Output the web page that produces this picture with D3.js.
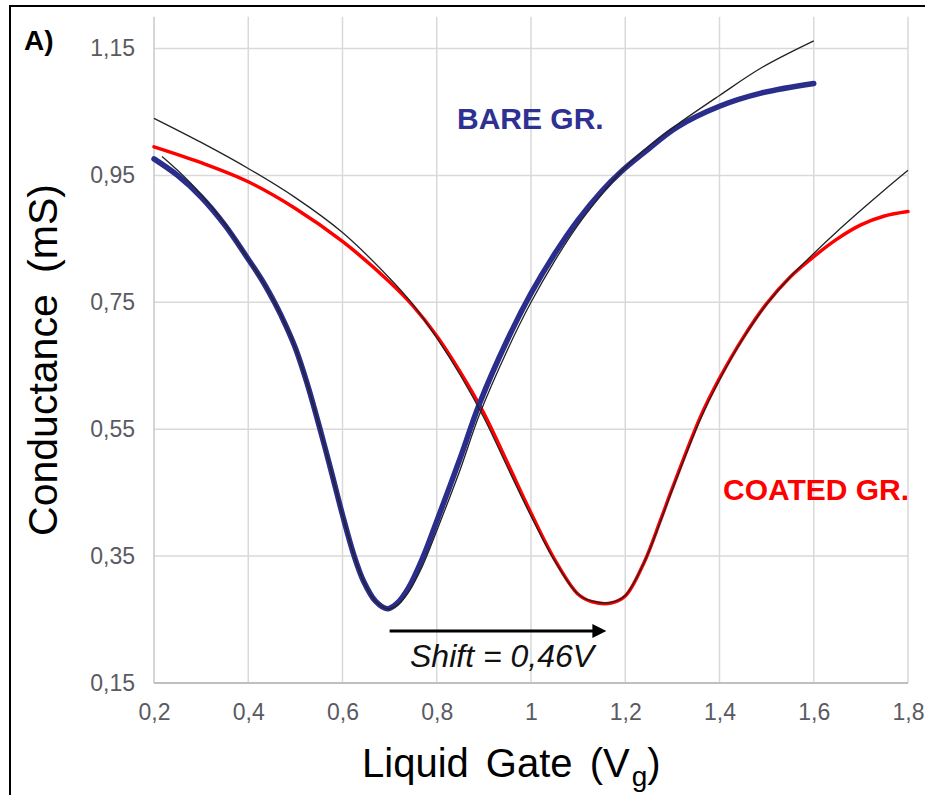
<!DOCTYPE html>
<html>
<head>
<meta charset="utf-8">
<script src="https://cdn.jsdelivr.net/npm/d3@7"></script>
<style>
  html, body { margin: 0; padding: 0; background: #fff; }
  svg { display: block; font-family: "Liberation Sans", Arial, sans-serif; }
</style>
</head>
<body>
<svg id="chart" width="925" height="795"></svg>
<script>
// ---------- data ----------
const xTicks = [0.2, 0.4, 0.6, 0.8, 1.0, 1.2, 1.4, 1.6, 1.8];
const xTickLabels = ["0,2", "0,4", "0,6", "0,8", "1", "1,2", "1,4", "1,6", "1,8"];
const yTicks = [0.15, 0.35, 0.55, 0.75, 0.95, 1.15];
const yTickLabels = ["0,15", "0,35", "0,55", "0,75", "0,95", "1,15"];

// Bare graphene (measured, blue)
const bareX = [0.2, 0.25, 0.3, 0.35, 0.4, 0.43, 0.457, 0.48, 0.5, 0.525, 0.552, 0.575, 0.6, 0.624, 0.645, 0.67, 0.695, 0.715, 0.74, 0.77, 0.8, 0.85, 0.89, 0.95, 1.0, 1.05, 1.1, 1.15, 1.19, 1.24, 1.31, 1.4, 1.49, 1.6];
const bareY = [0.976, 0.95, 0.916, 0.872, 0.818, 0.784, 0.748, 0.713, 0.678, 0.622, 0.551, 0.487, 0.415, 0.352, 0.31, 0.279, 0.267, 0.275, 0.3, 0.347, 0.405, 0.505, 0.589, 0.691, 0.764, 0.826, 0.88, 0.925, 0.955, 0.986, 1.026, 1.059, 1.08, 1.095];

// Bare graphene fit (thin black)
const bareFitX = [0.217, 0.25, 0.3, 0.35, 0.4, 0.43, 0.457, 0.48, 0.5, 0.525, 0.552, 0.575, 0.6, 0.624, 0.645, 0.67, 0.695, 0.715, 0.74, 0.77, 0.8, 0.85, 0.89, 0.95, 1.0, 1.05, 1.1, 1.15, 1.19, 1.24, 1.31, 1.4, 1.49, 1.6];
const bareFitY = [0.98, 0.958, 0.92, 0.874, 0.818, 0.784, 0.748, 0.713, 0.678, 0.622, 0.551, 0.487, 0.415, 0.352, 0.31, 0.279, 0.267, 0.272, 0.293, 0.335, 0.39, 0.487, 0.572, 0.675, 0.75, 0.815, 0.872, 0.92, 0.955, 0.99, 1.03, 1.076, 1.12, 1.162];

// Coated graphene (measured, red)
const coatedX = [0.2, 0.3, 0.4, 0.5, 0.6, 0.7, 0.75, 0.8, 0.85, 0.9, 0.95, 1.0, 1.05, 1.1, 1.13, 1.17, 1.2, 1.24, 1.275, 1.3, 1.36, 1.4, 1.45, 1.5, 1.55, 1.6, 1.65, 1.7, 1.75, 1.8];
const coatedY = [0.995, 0.97, 0.94, 0.898, 0.846, 0.782, 0.744, 0.697, 0.64, 0.575, 0.497, 0.418, 0.345, 0.29, 0.278, 0.276, 0.287, 0.34, 0.407, 0.457, 0.57, 0.63, 0.694, 0.748, 0.79, 0.822, 0.85, 0.872, 0.886, 0.893];

// Coated graphene fit (thin black)
const coatedFitX = [0.2, 0.3, 0.4, 0.5, 0.6, 0.7, 0.75, 0.8, 0.85, 0.9, 0.95, 1.0, 1.05, 1.1, 1.13, 1.17, 1.2, 1.24, 1.275, 1.3, 1.36, 1.4, 1.45, 1.5, 1.55, 1.6, 1.65, 1.7, 1.75, 1.8];
const coatedFitY = [1.04, 1.002, 0.961, 0.915, 0.86, 0.788, 0.746, 0.694, 0.635, 0.568, 0.49, 0.413, 0.343, 0.29, 0.279, 0.277, 0.288, 0.34, 0.405, 0.455, 0.567, 0.628, 0.693, 0.747, 0.79, 0.827, 0.862, 0.895, 0.927, 0.958];

// Annotation: Dirac point shift
const shiftFrom = 0.70, shiftTo = 1.16, shiftLevel = 0.232;
const shiftText = "Shift = 0,46V";

// ---------- layout ----------
const svg = d3.select("#chart");
const x = d3.scaleLinear().domain([0.2, 1.8]).range([154, 908]);
const y = d3.scaleLinear().domain([0.15, 1.2]).range([683, 16.8]);

// outer frame
svg.append("path").attr("d", "M10,800 V6 H930").attr("fill", "none")
  .attr("stroke", "#000").attr("stroke-width", 2);

// gridlines
const grid = svg.append("g");
grid.selectAll(".hg").data(yTicks.slice(1)).join("line")
  .attr("x1", x(0.2)).attr("x2", x(1.8))
  .attr("y1", d => y(d)).attr("y2", d => y(d))
  .attr("stroke", "#d9d9d9").attr("stroke-width", 1.5);
grid.selectAll(".vg").data(xTicks).join("line")
  .attr("x1", d => x(d)).attr("x2", d => x(d))
  .attr("y1", y(1.2)).attr("y2", y(0.15))
  .attr("stroke", d => d === 0.2 ? "#c8c8c8" : "#d9d9d9").attr("stroke-width", 1.5);
grid.append("line")
  .attr("x1", x(0.2)).attr("x2", x(1.8)).attr("y1", y(0.15)).attr("y2", y(0.15))
  .attr("stroke", "#bfbfbf").attr("stroke-width", 2);

// axes (labels only)
const xAxis = svg.append("g").attr("transform", `translate(0,${y(0.15)})`)
  .call(d3.axisBottom(x).tickValues(xTicks).tickSize(0).tickPadding(21)
    .tickFormat((d, i) => xTickLabels[i]));
const yAxis = svg.append("g").attr("transform", `translate(${x(0.2)},0)`)
  .call(d3.axisLeft(y).tickValues(yTicks).tickSize(0).tickPadding(19)
    .tickFormat((d, i) => yTickLabels[i]));
[xAxis, yAxis].forEach(a => {
  a.select(".domain").remove();
  a.selectAll("text").attr("font-family", "Liberation Sans, Arial, sans-serif")
    .attr("font-size", 23).attr("fill", "#5a5a62");
});

// curves
const line = d3.line().x(d => x(d[0])).y(d => y(d[1])).curve(d3.curveCatmullRom.alpha(0.5));
const zip = (a, b) => a.map((v, i) => [v, b[i]]);

svg.append("path").datum(zip(coatedX, coatedY)).attr("d", line)
  .attr("fill", "none").attr("stroke", "#ff0000").attr("stroke-width", 3.5).attr("stroke-linecap", "round");
svg.append("path").datum(zip(bareX, bareY)).attr("d", line)
  .attr("fill", "none").attr("stroke", "#2a2d8c").attr("stroke-width", 5.5).attr("stroke-linecap", "round");
svg.append("path").datum(zip(coatedFitX, coatedFitY)).attr("d", line)
  .attr("fill", "none").attr("stroke", "#222").attr("stroke-width", 1.3);
svg.append("path").datum(zip(bareFitX, bareFitY)).attr("d", line)
  .attr("fill", "none").attr("stroke", "#222").attr("stroke-width", 1.3);

// arrow annotation
const ay = y(shiftLevel);
svg.append("line").attr("x1", x(shiftFrom)).attr("x2", x(shiftTo) - 12)
  .attr("y1", ay).attr("y2", ay).attr("stroke", "#000").attr("stroke-width", 3);
svg.append("path")
  .attr("d", `M${x(shiftTo) - 14},${ay - 7} L${x(shiftTo)},${ay} L${x(shiftTo) - 14},${ay + 7} Z`)
  .attr("fill", "#000");
svg.append("text").attr("x", 410).attr("y", 667)
  .attr("font-size", 32).attr("font-style", "italic").attr("fill", "#111").text(shiftText);

// series labels
svg.append("text").attr("x", 457).attr("y", 129).attr("font-size", 30).attr("font-weight", "bold")
  .attr("fill", "#2e3192").text("BARE GR.");
svg.append("text").attr("x", 723).attr("y", 500).attr("font-size", 30).attr("font-weight", "bold")
  .attr("fill", "#ff0000").text("COATED GR.");

// panel letter
svg.append("text").attr("x", 24).attr("y", 50).attr("font-size", 28).attr("font-weight", "bold")
  .attr("fill", "#000").text("A)");

// axis titles
svg.append("text").attr("transform", "translate(57,360) rotate(-90)")
  .attr("text-anchor", "middle").attr("font-size", 41).attr("word-spacing", 10)
  .attr("fill", "#000").text("Conductance (mS)");
const xt = svg.append("text").attr("x", 362).attr("y", 777).attr("font-size", 40)
  .attr("word-spacing", 6).attr("fill", "#000");
xt.append("tspan").text("Liquid Gate (V");
xt.append("tspan").attr("font-size", 28).attr("dx", 2).attr("dy", 9).text("g");
xt.append("tspan").attr("dy", -9).text(")");
</script>
</body>
</html>
